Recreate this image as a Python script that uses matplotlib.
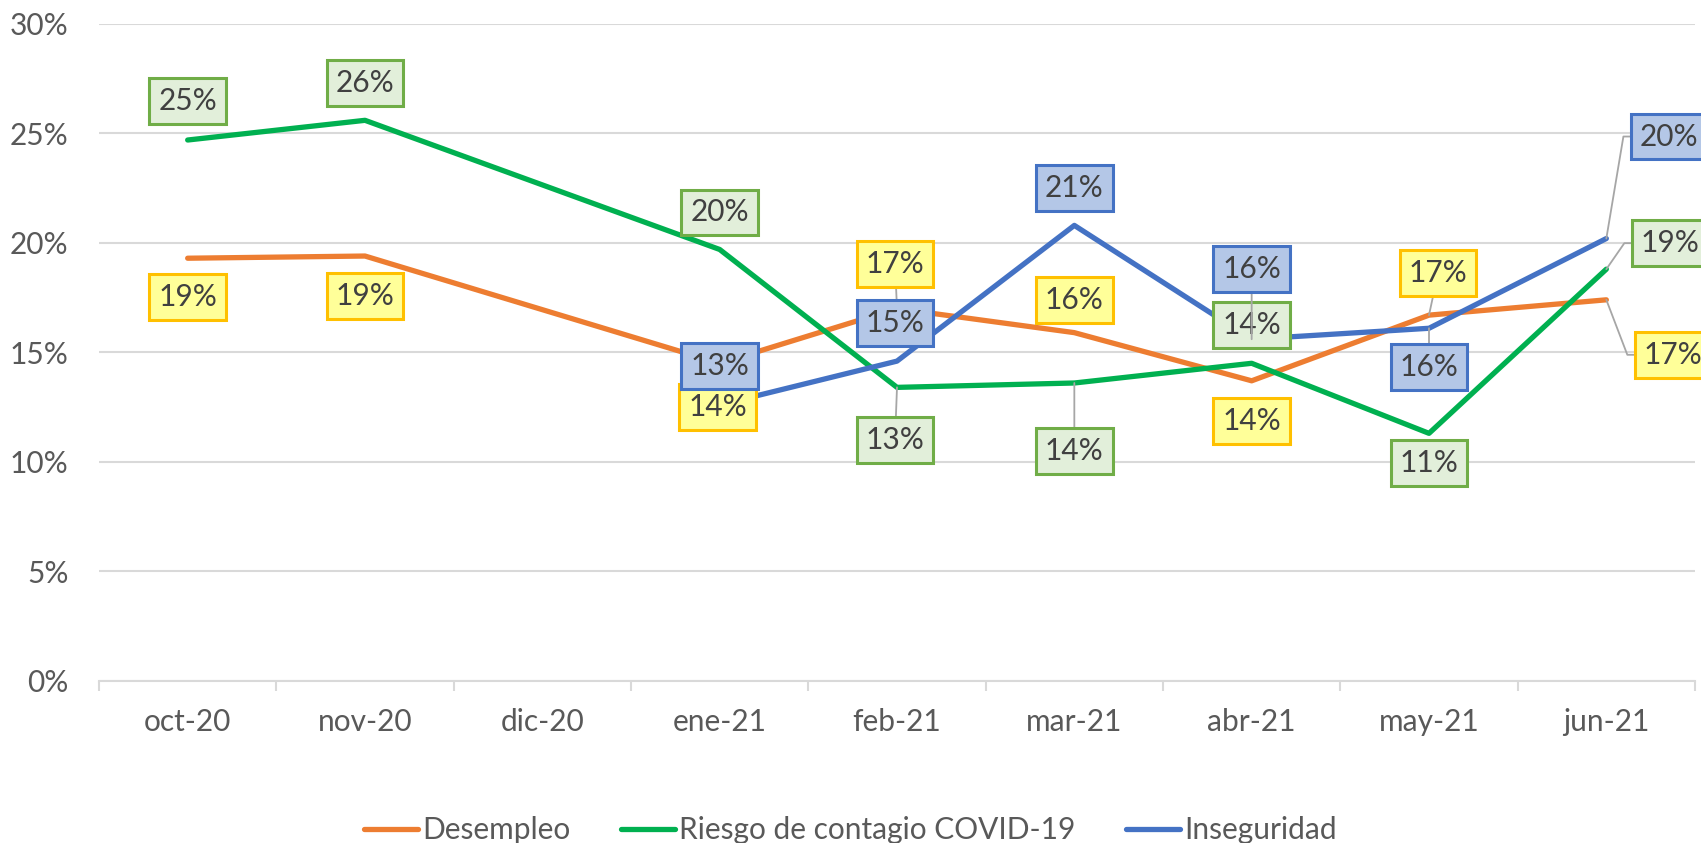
import math
import matplotlib
matplotlib.use('Agg')
import matplotlib.pyplot as plt
from matplotlib.ticker import FuncFormatter, MultipleLocator

plt.rcParams['font.family'] = ['Lato', 'DejaVu Sans']

months = ['oct-20', 'nov-20', 'dic-20', 'ene-21', 'feb-21', 'mar-21', 'abr-21', 'may-21', 'jun-21']

# values in fraction, None = no data that month
desempleo = [0.193, 0.194, None, 0.145, 0.170, 0.159, 0.137, 0.167, 0.174]
riesgo = [0.247, 0.256, None, 0.197, 0.134, 0.136, 0.145, 0.113, 0.188]
inseguridad = [None, None, None, 0.126, 0.146, 0.208, 0.156, 0.161, 0.202]

series_names = ['Desempleo', 'Riesgo de contagio COVID-19', 'Inseguridad']

# label offsets in pixels (dx, dy up) and leader style (0 none, 1 straight, 2 elbow)
off_des = [(0, -39), (0, -40), None, (-2, -44), (-2, 45), (0, 33), (0, -40), (9, 42), (67, -55)]
off_rie = [(0, 39), (0, 37), None, (0, 37), (-2, -53), (0, -68), (0, 38), (0, -30), (64, 26)]
off_ins = [None, None, None, (0, 39), (-2, 38), (0, 37), (0, 70), (0, -39), (63, 102)]
lead_des = [0, 0, 0, 0, 1, 0, 0, 1, 2]
lead_rie = [0, 0, 0, 0, 1, 1, 0, 0, 2]
lead_ins = [0, 0, 0, 0, 0, 0, 1, 1, 2]

line_colors = ['#ED7D31', '#00B050', '#4472C4']
box_face = ['#FFFF99', '#E2EFDA', '#B4C7E7']
box_edge = ['#FFC000', '#70AD47', '#4472C4']

fig = plt.figure(figsize=(17.01, 8.43), dpi=100)
ax = fig.add_axes([99 / 1701, 1 - 680.7 / 843, (1695 - 99) / 1701, (680.7 - 24) / 843])

all_vals = [desempleo, riesgo, inseguridad]
all_offs = [off_des, off_rie, off_ins]
all_leads = [lead_des, lead_rie, lead_ins]

for k, vals in enumerate(all_vals):
    xs = [i for i, v in enumerate(vals) if v is not None]
    ys = [v for v in vals if v is not None]
    ax.plot(xs, ys, color=line_colors[k], lw=3.8, solid_capstyle='round',
            solid_joinstyle='round', zorder=3, label=series_names[k])

for k, vals in enumerate(all_vals):
    for i, v in enumerate(vals):
        if v is None:
            continue
        dx, dy = all_offs[k][i]
        lead = all_leads[k][i]
        bbox = dict(boxstyle='square,pad=0.3', fc=box_face[k], ec=box_edge[k], lw=2.2)
        kw = {}
        if lead == 1:
            kw['arrowprops'] = dict(arrowstyle='-', color='#A6A6A6', lw=1.3,
                                    shrinkA=0, shrinkB=0)
        elif lead == 2:
            ang = math.degrees(math.atan2(dy, dx - 37 - 9))
            kw['arrowprops'] = dict(arrowstyle='-', color='#A6A6A6', lw=1.3,
                                    shrinkA=0, shrinkB=0, relpos=(0, 0.5),
                                    connectionstyle='angle,angleA=180,angleB=%.1f,rad=0' % ang)
        ax.annotate('{:.0%}'.format(v), xy=(i, v), xytext=(dx, dy),
                    textcoords='offset pixels', ha='center', va='center',
                    fontsize=21.5, color='#404040', bbox=bbox,
                    zorder=5 + k, annotation_clip=False, **kw)

ax.set_xlim(-0.5, len(months) - 0.5)
ax.set_ylim(0, 0.30)
ax.yaxis.set_major_locator(MultipleLocator(0.05))
ax.yaxis.set_major_formatter(FuncFormatter(lambda y, _: '{:.0f}%'.format(y * 100)))
ax.set_xticks(range(len(months)))
ax.set_xticklabels(months)
ax.set_xticks([i - 0.5 for i in range(len(months) + 1)], minor=True)
ax.tick_params(axis='x', which='major', length=0, pad=20, labelsize=21.5, labelcolor='#595959')
ax.tick_params(axis='x', which='minor', length=7, width=1.5, color='#D9D9D9')
ax.tick_params(axis='y', length=0, pad=22, labelsize=21.5, labelcolor='#595959')
ax.grid(axis='y', color='#D9D9D9', lw=1.5, zorder=0)
ax.set_axisbelow(True)
for s in ['top', 'right', 'left']:
    ax.spines[s].set_visible(False)
ax.spines['bottom'].set_color('#D9D9D9')
ax.spines['bottom'].set_linewidth(1.5)

fig.legend(loc='center', bbox_to_anchor=(0.5, 1 - 830 / 843), ncol=3, frameon=False,
           fontsize=21.5, labelcolor='#595959', handlelength=1.8, handletextpad=0.15,
           columnspacing=1.7)

fig.savefig('out.png', dpi=100)
